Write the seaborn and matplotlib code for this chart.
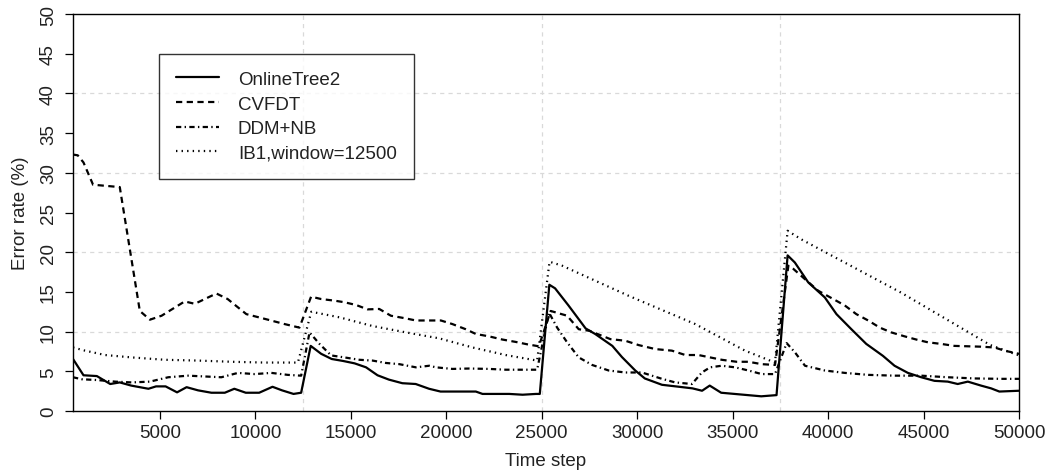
import matplotlib
matplotlib.use("Agg")
import matplotlib.pyplot as plt
import seaborn as sns
import pandas as pd

# ---------------- data ----------------
online_t = [450, 1000, 1700, 2400, 2900, 3500, 4400, 4800, 5300, 5900, 6400, 7000, 7700, 8400,
            8900, 9500, 10200, 10900, 11400, 12000, 12400, 12900, 13450, 14000, 14600, 15200,
            15800, 16400, 17000, 17700, 18400, 19100, 19700, 20300, 21000, 21550, 21900, 22600,
            23300, 24000, 24700, 24900, 25400, 25700, 26400, 27300, 27800, 28700, 29200, 29900,
            30400, 31300, 32200, 32900, 33400, 33800, 34400, 35100, 35800, 36500, 37300, 37880,
            38260, 38960, 39830, 40440, 41220, 42000, 42870, 43480, 44180, 44880, 45570, 46270,
            46790, 47320, 48010, 48540, 48970, 50000]
online_v = [6.55, 4.5, 4.4, 3.4, 3.6, 3.2, 2.8, 3.1, 3.1, 2.35, 3.0, 2.6, 2.3, 2.3,
            2.8, 2.3, 2.3, 3.05, 2.6, 2.15, 2.3, 8.2, 7.2, 6.55, 6.3, 6.0,
            5.5, 4.5, 3.95, 3.5, 3.4, 2.8, 2.45, 2.45, 2.45, 2.45, 2.15, 2.15,
            2.15, 2.05, 2.15, 2.15, 15.9, 15.45, 13.3, 10.4, 9.7, 8.2, 6.8, 5.1,
            4.1, 3.3, 3.05, 2.85, 2.55, 3.2, 2.3, 2.15, 2.0, 1.85, 2.0, 19.6,
            18.7, 16.2, 14.3, 12.2, 10.3, 8.45, 6.95, 5.7, 4.8, 4.25, 3.8, 3.7,
            3.4, 3.7, 3.2, 2.85, 2.45, 2.55]

cvfdt_t = [450, 700, 1000, 1500, 2900, 3950, 4480, 5090, 6300, 6830, 7960, 8550, 9530, 10660,
           11530, 12310, 12920, 13450, 14140, 14660, 15280, 15880, 16490, 17100, 17800, 18410,
           19110, 19720, 20320, 21020, 21550, 22240, 22940, 23640, 24240, 24850, 25470, 26330,
           26940, 27500, 28600, 29380, 30080, 30950, 31820, 32520, 33210, 33820, 34430, 35210,
           35830, 36520, 37220, 37920, 38180, 38790, 39480, 40270, 40870, 41480, 42100, 42710,
           43310, 44010, 44620, 45230, 45920, 46620, 47320, 48010, 48720, 49240, 50000]
cvfdt_v = [32.3, 32.2, 31.3, 28.5, 28.2, 12.6, 11.5, 12.0, 13.8, 13.5, 14.8, 14.1, 12.2, 11.5,
           10.95, 10.5, 14.4, 14.1, 13.9, 13.7, 13.35, 12.8, 12.85, 12.0, 11.7, 11.4,
           11.4, 11.4, 10.95, 10.3, 9.7, 9.4, 9.0, 8.7, 8.4, 8.15, 12.6, 12.0,
           10.3, 10.1, 9.05, 8.85, 8.3, 7.8, 7.6, 7.05, 7.05, 6.75, 6.45, 6.2,
           6.2, 5.9, 5.8, 18.3, 17.9, 16.6, 15.15, 14.1, 13.3, 12.2, 11.4, 10.5,
           9.9, 9.4, 9.0, 8.65, 8.45, 8.2, 8.15, 8.1, 8.0, 7.6, 7.2]

ddm_t = [450, 910, 1700, 2650, 3520, 4480, 5440, 6480, 7350, 8220, 9090, 9960, 10840, 11700,
         12400, 12840, 13360, 13970, 14660, 15450, 16140, 16840, 17540, 18410, 19110, 19460,
         20320, 21200, 22240, 23110, 23980, 24760, 25380, 25810, 26330, 26940, 27640, 28510,
         29380, 30250, 31300, 31990, 32870, 33390, 33820, 34430, 35130, 35830, 36520, 37220,
         37830, 38260, 38790, 39830, 40870, 42100, 43480, 44880, 46270, 47670, 49060, 50000]
ddm_v = [4.25, 4.0, 3.9, 3.7, 3.6, 3.7, 4.25, 4.45, 4.35, 4.25, 4.8, 4.65, 4.8, 4.55,
         4.45, 9.9, 8.45, 7.0, 6.75, 6.45, 6.35, 6.05, 5.9, 5.5, 5.7, 5.5,
         5.3, 5.35, 5.3, 5.2, 5.2, 5.2, 12.4, 10.5, 8.65, 6.75, 5.8, 5.1,
         4.85, 4.85, 4.05, 3.6, 3.4, 4.85, 5.5, 5.7, 5.5, 5.1, 4.65, 4.65,
         8.55, 7.4, 5.7, 5.1, 4.8, 4.55, 4.45, 4.45, 4.25, 4.1, 4.05, 4.05]

ib1_t = [450, 1080, 2130, 3520, 5260, 7000, 8750, 10490, 12230, 12930, 14400, 16140, 17890,
         19630, 21380, 23110, 24760, 25410, 26070, 29560, 33040, 35650, 37220, 37880, 38610,
         43830, 48500, 50000]
ib1_v = [8.0, 7.6, 7.05, 6.75, 6.45, 6.35, 6.2, 6.1, 6.1, 12.5, 11.8, 10.7, 9.9,
         9.15, 8.0, 7.05, 6.35, 18.8, 18.3, 14.5, 10.95, 7.6, 6.1, 22.7, 21.6,
         14.9, 8.3, 7.0]

series_names = ["OnlineTree2", "CVFDT", "DDM+NB", "IB1,window=12500"]
x_ticks = [5000, 10000, 15000, 20000, 25000, 30000, 35000, 40000, 45000, 50000]
y_ticks = [0, 5, 10, 15, 20, 25, 30, 35, 40, 45, 50]
grid_x = [12500, 25000, 37500]
grid_y = [10, 20, 30, 40]

# ---------------- styling ----------------
sns.set_theme(style="white")
plt.rcParams["font.family"] = ["Liberation Sans", "DejaVu Sans"]
plt.rcParams["lines.scale_dashes"] = False

fig = plt.figure(figsize=(10.49, 4.77), dpi=100)
ax = fig.add_axes([73 / 1049, 1 - 412 / 477, (1019 - 73) / 1049, (412 - 15) / 477])

# grid (light grey dashed)
for gx in grid_x:
    ax.axvline(gx, color="#d9d9d9", lw=0.9, dashes=(3, 3), zorder=0)
for gy in grid_y:
    ax.axhline(gy, color="#d9d9d9", lw=0.9, dashes=(3, 3), zorder=0)

frames = [
    (online_t, online_v, series_names[0], dict(linestyle="-")),
    (cvfdt_t, cvfdt_v, series_names[1], dict(dashes=(4.5, 3.2))),
    (ddm_t, ddm_v, series_names[2], dict(dashes=(3.8, 2.4, 1.0, 2.4))),
    (ib1_t, ib1_v, series_names[3], dict(dashes=(1.0, 3.0))),
]
for t, v, name, style in frames:
    df = pd.DataFrame({"t": t, "v": v})
    sns.lineplot(data=df, x="t", y="v", ax=ax, color="black", lw=1.6,
                 estimator=None, sort=False, label=name, **style)

ax.set_xlim(450, 50000)
ax.set_ylim(0, 50)
ax.set_xticks(x_ticks)
ax.set_xticklabels([str(x) for x in x_ticks])
ax.set_yticks(y_ticks)
ax.set_yticklabels([str(y) for y in y_ticks], rotation=90, va="center")

for s in ax.spines.values():
    s.set_visible(True)
    s.set_color("black")
    s.set_linewidth(1.0)

ax.tick_params(axis="both", direction="out", length=5.5, width=0.9, color="black",
               labelsize=13.5, labelcolor="#222222")
ax.tick_params(axis="x", pad=4, bottom=True)
ax.tick_params(axis="y", pad=6, left=True)

ax.set_xlabel("Time step", fontsize=13.5, color="#222222", labelpad=8)
ax.set_ylabel("Error rate (%)", fontsize=13.5, color="#222222", labelpad=8)

leg = ax.legend(loc="upper left", bbox_to_anchor=((159 - 73) / 946, (412 - 55) / 397),
                borderaxespad=0, frameon=True, fancybox=False, fontsize=13.5,
                handlelength=2.3, handletextpad=1.0, labelspacing=0.4,
                borderpad=0.9)
leg.get_frame().set_edgecolor("black")
leg.get_frame().set_linewidth(1.0)
for txt in leg.get_texts():
    txt.set_color("#222222")

fig.savefig("out.png", dpi=100)
